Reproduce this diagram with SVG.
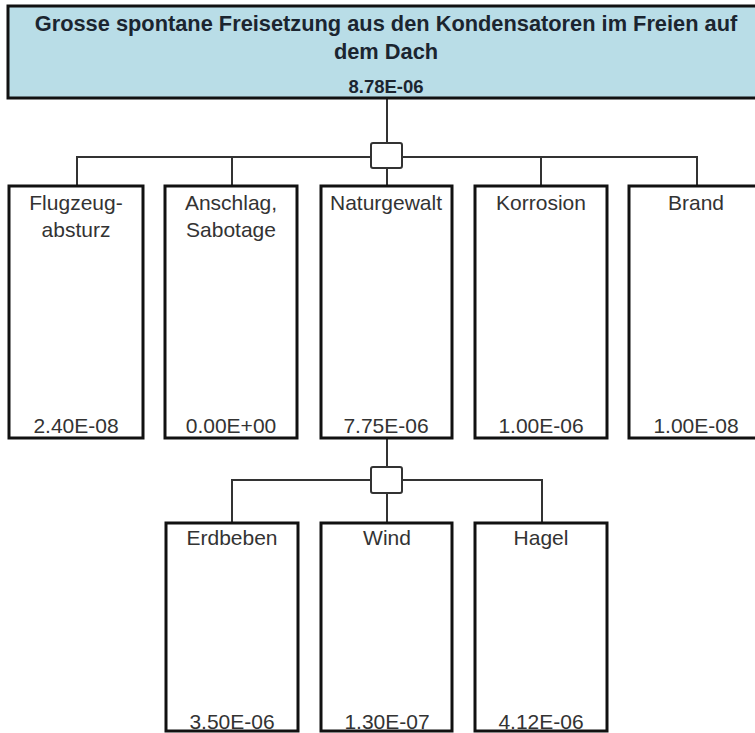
<svg xmlns="http://www.w3.org/2000/svg" width="755" height="733" viewBox="0 0 755 733">
  <style>
    .top { fill: #b9dde7; stroke: #111; stroke-width: 3; }
    .box { fill: #fff; stroke: #111; stroke-width: 3; }
    .gate { fill: #fff; stroke: #333; stroke-width: 2; }
    .wire { fill: none; stroke: #333; stroke-width: 2; }
    .title { font-family: "Liberation Sans", Arial, sans-serif; font-weight: bold; font-size: 21.8px; fill: #1b2530; text-anchor: middle; }
    .tval { font-family: "Liberation Sans", Arial, sans-serif; font-weight: bold; font-size: 18.5px; fill: #1b2530; text-anchor: middle; }
    .lbl { font-family: "Liberation Sans", Arial, sans-serif; font-size: 21px; fill: #333; text-anchor: middle; }
    .val { font-family: "Liberation Sans", Arial, sans-serif; font-size: 21px; fill: #333; text-anchor: middle; }
  </style>

  <!-- connectors -->
  <g id="connectors">
    <path class="wire" d="M387 98 V143 M387 168 V186"/>
    <path class="wire" d="M77 186 V157 H371 M402 157 H697 V186 M232 157 V186 M541 157 V186"/>
    <path class="wire" d="M387 438 V467 M387 493 V523"/>
    <path class="wire" d="M232 523 V480 H370 M402 480 H542 V523"/>
  </g>

  <!-- gates -->
  <g id="gate-top">
    <rect class="gate" x="371" y="143" width="31" height="25" rx="2"/>
  </g>
  <g id="gate-naturgewalt">
    <rect class="gate" x="371" y="467" width="31" height="26" rx="2"/>
  </g>

  <!-- top event -->
  <g id="top-event">
    <rect class="top" x="8" y="6" width="770" height="92"/>
    <text class="title" x="386" y="31">Grosse spontane Freisetzung aus den Kondensatoren im Freien auf</text>
    <text class="title" x="386" y="59">dem Dach</text>
    <text class="tval" x="386" y="93">8.78E-06</text>
  </g>

  <!-- first level -->
  <g id="flugzeugabsturz">
    <rect class="box" x="9" y="186" width="134" height="252"/>
    <text class="lbl" x="76" y="210">Flugzeug-</text>
    <text class="lbl" x="76" y="237">absturz</text>
    <text class="val" x="76" y="433">2.40E-08</text>
  </g>
  <g id="anschlag">
    <rect class="box" x="165" y="186" width="132" height="252"/>
    <text class="lbl" x="231" y="210">Anschlag,</text>
    <text class="lbl" x="231" y="237">Sabotage</text>
    <text class="val" x="231" y="433">0.00E+00</text>
  </g>
  <g id="naturgewalt">
    <rect class="box" x="321" y="186" width="131" height="252"/>
    <text class="lbl" x="386" y="210">Naturgewalt</text>
    <text class="val" x="386" y="433">7.75E-06</text>
  </g>
  <g id="korrosion">
    <rect class="box" x="475" y="186" width="132" height="252"/>
    <text class="lbl" x="541" y="210">Korrosion</text>
    <text class="val" x="541" y="433">1.00E-06</text>
  </g>
  <g id="brand">
    <rect class="box" x="629" y="186" width="134" height="252"/>
    <text class="lbl" x="696" y="210">Brand</text>
    <text class="val" x="696" y="433">1.00E-08</text>
  </g>

  <!-- second level -->
  <g id="erdbeben">
    <rect class="box" x="166" y="523" width="132" height="208"/>
    <text class="lbl" x="232" y="545">Erdbeben</text>
    <text class="val" x="232" y="729">3.50E-06</text>
  </g>
  <g id="wind">
    <rect class="box" x="321" y="523" width="131" height="208"/>
    <text class="lbl" x="387" y="545">Wind</text>
    <text class="val" x="387" y="729">1.30E-07</text>
  </g>
  <g id="hagel">
    <rect class="box" x="475" y="523" width="132" height="208"/>
    <text class="lbl" x="541" y="545">Hagel</text>
    <text class="val" x="541" y="729">4.12E-06</text>
  </g>
</svg>
